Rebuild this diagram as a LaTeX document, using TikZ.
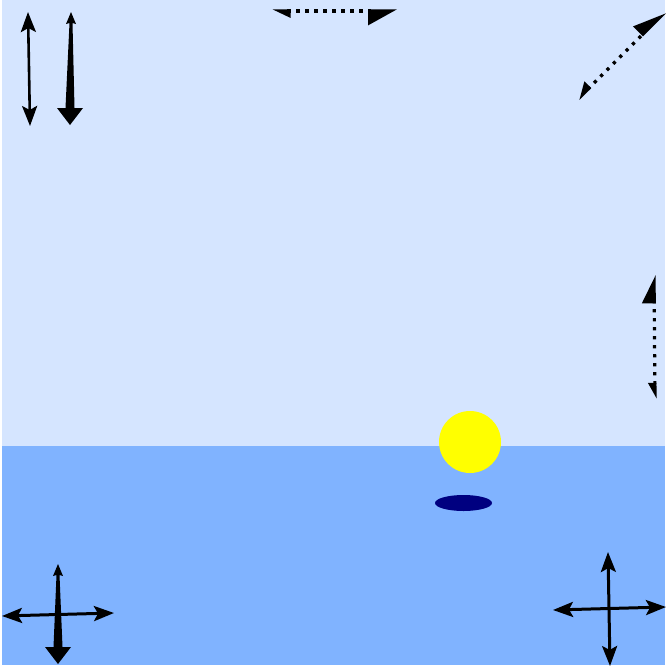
\documentclass[tikz,border=0pt]{standalone}
\usepackage{tikz}
\usetikzlibrary{arrows.meta,calc}
\definecolor{skyB}{HTML}{D5E5FF}
\definecolor{seaB}{HTML}{80B3FF}
\definecolor{sunY}{HTML}{FFFF00}
\definecolor{shadeN}{HTML}{000080}
\tikzset{
  twohead/.style={line width=2.6pt,{Stealth[length=20pt,width=15pt,inset=4pt]}-{Stealth[length=20pt,width=15pt,inset=4pt]}},
  dotline/.style={line width=3.2pt,dash pattern=on 3.2pt off 5.8pt}
}
% tapered arrow: #1 top tip, #2 bottom tip
\newcommand{\taperarrow}[2]{%
  \fill[black] (#1) -- ++(-5,12) -- ++(3.5,-1) -- ($(#2)+(-4.5,-17)$) -- ++(-8.5,0)
    -- (#2) -- ++(13,-17) -- ++(-8.5,0) -- ($(#1)+(1.5,11)$) -- ++(3.5,1) -- cycle;}

\begin{document}
\begin{tikzpicture}[x=1pt,y=-1pt]
  \useasboundingbox[fill=white] (0,0) rectangle (667,667);
  % sky and sea
  \fill[skyB] (2,0) rectangle (665,446);
  \fill[seaB] (2,446) rectangle (665,665);
  % sun and its shadow
  \fill[sunY] (470,442) circle (31);
  \fill[shadeN] (463.5,503) ellipse (28.5 and 8);

  % top left
  \coordinate (lA) at (28,12);
  \coordinate (lB) at (30,126);
  \draw[twohead] (lA) -- (lB);
  \coordinate (tA) at (71,12);
  \coordinate (tB) at (70,125);
  \taperarrow{tA}{tB}

  % dotted ones
  \coordinate (hA) at (272,11);
  \coordinate (hB) at (397,11);
  \draw[dotline,{Triangle[harpoon,length=15pt,width=13pt]}-{Triangle[harpoon,swap,length=26pt,width=28pt]}] (hA) -- (hB);
  \coordinate (dA) at (578,99);
  \coordinate (dB) at (665,12);
  \draw[dotline,{Triangle[harpoon,swap,length=14pt,width=15pt]}-{Triangle[harpoon,length=29pt,width=24pt]}] (dA) -- (dB);
  \coordinate (rA) at (654,275);
  \coordinate (rB) at (655,399);
  \draw[dotline,{Triangle[harpoon,length=25pt,width=24pt]}-{Triangle[harpoon,swap,length=13pt,width=13pt]}] (rA) -- (rB);

  % bottom left cross
  \coordinate (xL) at (2,616);
  \coordinate (xR) at (114,613);
  \draw[twohead,line width=3pt] (xL) -- (xR);
  \coordinate (xT) at (58,564);
  \coordinate (xD) at (58,664);
  \taperarrow{xT}{xD}

  % bottom right cross
  \coordinate (yL) at (553,610);
  \coordinate (yR) at (666,607);
  \coordinate (yT) at (608,552);
  \coordinate (yD) at (610,666);
  \draw[twohead,line width=3pt] (yL) -- (yR);
  \draw[twohead,line width=3pt] (yT) -- (yD);
\end{tikzpicture}
\end{document}
